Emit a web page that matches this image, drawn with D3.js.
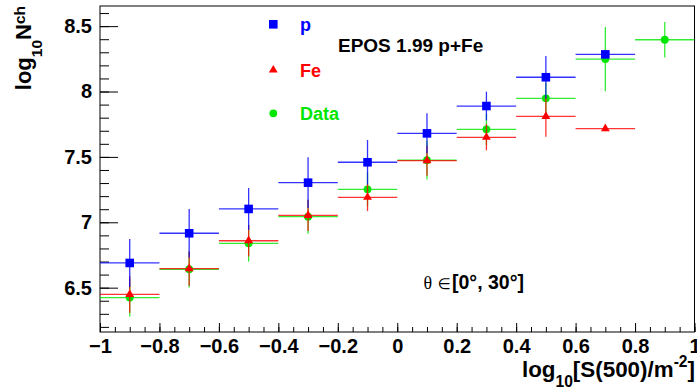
<!DOCTYPE html>
<html>
<head>
<meta charset="utf-8">
<script src="https://cdn.jsdelivr.net/npm/d3@7"></script>
<style>
  body { margin: 0; background: #fff; }
  svg { display: block; font-family: "Liberation Sans", Arial, sans-serif; }
</style>
</head>
<body>
<svg id="chart" width="697" height="392"></svg>
<script>
// log10 Nch vs log10 S(500): EPOS 1.99 p / Fe simulations against data

const binCenters = [-0.9, -0.7, -0.5, -0.3, -0.1, 0.1, 0.3, 0.5, 0.7, 0.9];
const binHalfWidth = 0.1;

const protonY   = [6.689, 6.916, 7.102, 7.303, 7.459, 7.680, 7.889, 8.109, 8.284];
const protonErr = [0.183, 0.186, 0.160, 0.194, 0.170, 0.153, 0.110, 0.163, 0.030];

const ironY   = [6.449, 6.645, 6.859, 7.053, 7.191, 7.471, 7.650, 7.810, 7.716];
const ironErr = [0.140, 0.130, 0.120, 0.120, 0.105, 0.115, 0.100, 0.156, 0.020];

const dataY   = [6.424, 6.641, 6.839, 7.043, 7.252, 7.475, 7.711, 7.948, 8.248, 8.396];
const dataErr = [0.145, 0.140, 0.140, 0.130, 0.130, 0.148, 0.120, 0.120, 0.246, 0.135];

const legendLabels = ['p', 'Fe', 'Data'];

const svg = d3.select('#chart');

const frame = { left: 100, right: 694.5, top: 6, bottom: 332 };

const x = d3.scaleLinear().domain([-1, 1]).range([frame.left, frame.right]);
const y = d3.scaleLinear().domain([6.161, 8.654]).range([frame.bottom, frame.top]);

const fmt = d3.format('~g');

// frame
svg.append('rect')
    .attr('x', frame.left)
    .attr('y', frame.top)
    .attr('width', frame.right - frame.left)
    .attr('height', frame.bottom - frame.top)
    .attr('fill', 'none')
    .attr('stroke', '#000')
    .attr('stroke-width', 1);

// y axis: major + minor ticks, pointing inward
svg.append('g')
    .attr('transform', `translate(${frame.left},0)`)
    .call(d3.axisLeft(y).tickValues(d3.ticks(6.2, 8.6, 24)).tickSize(-9).tickFormat(''))
    .call(g => g.select('.domain').remove());

const yAxis = svg.append('g')
    .attr('transform', `translate(${frame.left},0)`)
    .call(d3.axisLeft(y).tickValues(d3.ticks(6.5, 8.5, 4)).tickSize(-18).tickPadding(8).tickFormat(fmt));
yAxis.select('.domain').remove();

// x axis
svg.append('g')
    .attr('transform', `translate(0,${frame.bottom})`)
    .call(d3.axisBottom(x).tickValues(d3.ticks(-1, 1, 40)).tickSize(-5).tickFormat(''))
    .call(g => g.select('.domain').remove());

const xAxis = svg.append('g')
    .attr('transform', `translate(0,${frame.bottom})`)
    .call(d3.axisBottom(x).tickValues(d3.ticks(-1, 1, 10)).tickSize(-9).tickPadding(7).tickFormat(fmt));
xAxis.select('.domain').remove();

svg.selectAll('.tick line').attr('stroke', '#000');
svg.selectAll('.tick text')
    .attr('fill', '#000')
    .attr('font-size', '20px')
    .attr('font-weight', 'bold')
    .attr('font-family', '"Liberation Sans", Arial, sans-serif');

// axis titles
const xTitle = svg.append('text')
    .attr('x', 695)
    .attr('y', 376.5)
    .attr('text-anchor', 'end')
    .attr('font-size', '22.4px')
    .attr('font-weight', 'bold')
    .attr('fill', '#000');
xTitle.append('tspan').text('log');
xTitle.append('tspan').attr('font-size', '15.6px').attr('dy', 10).text('10');
xTitle.append('tspan').attr('dy', -10).text('[S(500)/m');
xTitle.append('tspan').attr('font-size', '15.6px').attr('dy', -9.5).text('-2');
xTitle.append('tspan').attr('dy', 9.5).text(']');

const yTitle = svg.append('text')
    .attr('transform', 'translate(31,6) rotate(-90)')
    .attr('text-anchor', 'end')
    .attr('font-size', '22px')
    .attr('font-weight', 'bold')
    .attr('fill', '#000');
yTitle.append('tspan').text('log');
yTitle.append('tspan').attr('font-size', '15.5px').attr('dy', 11).text('10');
yTitle.append('tspan').attr('dy', -11).text('N');
yTitle.append('tspan').attr('font-size', '15.5px').attr('dy', -6).text('ch');

// series
const series = [
    { name: 'Data', values: dataY, errors: dataErr, color: '#00e600', marker: 'circle' },
    { name: 'Fe', values: ironY, errors: ironErr, color: '#ff0000', marker: 'triangle' },
    { name: 'p', values: protonY, errors: protonErr, color: '#0000ff', marker: 'square' }
];

const symbolFor = {
    circle: d3.symbol().type(d3.symbolCircle).size(Math.PI * 3.9 * 3.9),
    triangle: d3.symbol().type(d3.symbolTriangle).size(34),
    square: d3.symbol().type(d3.symbolSquare).size(8.6 * 8.6)
};

series.forEach(s => {
    const pts = s.values.map((v, i) => ({ cx: binCenters[i], v, e: s.errors[i] }));
    const g = svg.append('g').attr('class', `series-${s.name}`);

    g.selectAll('.hbar')
        .data(pts)
        .enter()
        .append('line')
        .attr('x1', d => x(d.cx - binHalfWidth))
        .attr('x2', d => x(d.cx + binHalfWidth))
        .attr('y1', d => y(d.v))
        .attr('y2', d => y(d.v))
        .attr('stroke', s.color)
        .attr('stroke-opacity', 0.8)
        .attr('stroke-width', 1.3);

    g.selectAll('.vbar')
        .data(pts)
        .enter()
        .append('line')
        .attr('x1', d => x(d.cx))
        .attr('x2', d => x(d.cx))
        .attr('y1', d => y(d.v - d.e))
        .attr('y2', d => y(d.v + d.e))
        .attr('stroke', s.color)
        .attr('stroke-opacity', 0.8)
        .attr('stroke-width', 1.3);

    g.selectAll('.marker')
        .data(pts)
        .enter()
        .append('path')
        .attr('transform', d => `translate(${x(d.cx)},${y(d.v)})`)
        .attr('d', symbolFor[s.marker]())
        .attr('fill', s.color);
});

// legend
const legendRows = [
    { label: legendLabels[0], color: '#0000ff', marker: 'square', my: 24.3 },
    { label: legendLabels[1], color: '#ff0000', marker: 'triangle', my: 70 },
    { label: legendLabels[2], color: '#00e600', marker: 'circle', my: 113.3 }
];

legendRows.forEach(r => {
    svg.append('path')
        .attr('transform', `translate(273.3,${r.my})`)
        .attr('d', symbolFor[r.marker]())
        .attr('fill', r.color);
    svg.append('text')
        .attr('x', 300)
        .attr('y', r.my + 7)
        .attr('font-size', '18px')
        .attr('font-weight', 'bold')
        .attr('fill', r.color)
        .text(r.label);
});

svg.append('text')
    .attr('x', 338)
    .attr('y', 51.7)
    .attr('font-size', '19px')
    .attr('font-weight', 'bold')
    .attr('fill', '#000')
    .text('EPOS 1.99 p+Fe');

// zenith angle range
const theta = svg.append('text')
    .attr('y', 289.3)
    .attr('font-size', '18px')
    .attr('fill', '#000');
theta.append('tspan')
    .attr('x', 423.5)
    .attr('font-family', '"Liberation Serif", "Times New Roman", serif')
    .text('θ');
theta.append('tspan')
    .attr('x', 437.5)
    .attr('font-family', '"DejaVu Sans", sans-serif')
    .attr('font-size', '15px')
    .text('∈');
theta.append('tspan')
    .attr('x', 452)
    .attr('font-size', '19.5px')
    .attr('font-weight', 'bold')
    .text('[0°, 30°]');
</script>
</body>
</html>
